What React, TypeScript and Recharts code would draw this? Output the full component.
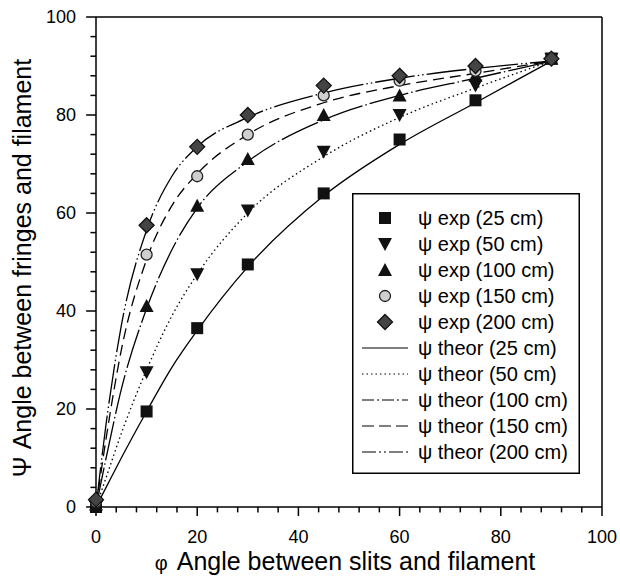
import { ComposedChart, Line, Scatter, XAxis, YAxis, ReferenceLine } from "recharts"

// experimental angles (phi) and measured psi for each slit distance
const phiExp = [0, 10, 20, 30, 45, 60, 75, 90]
const psiExp25 = [0, 19.5, 36.5, 49.5, 64, 75, 83, 91.5]
const psiExp50 = [0, 27.5, 47.5, 60.5, 72.5, 80, 86, 91.5]
const psiExp100 = [0.5, 41, 61.5, 71, 80, 84, 88, 91.5]
const psiExp150 = [1, 51.5, 67.5, 76, 84, 87, 89, 91.5]
const psiExp200 = [1.5, 57.5, 73.5, 80, 86, 88, 90, 91.5]

// theoretical curves
const phiTheor = [0, 2, 5, 10, 15, 20, 30, 45, 60, 75, 90]
const psiTheor25 = [0, 4, 10, 19.5, 28.5, 36, 49, 63.5, 74, 82.5, 91]
const psiTheor50 = [0, 6, 15, 28, 39, 47.5, 60, 71.5, 79.5, 85.5, 91]
const psiTheor100 = [0, 10, 24, 40.5, 52.5, 61, 70.5, 79, 84, 87.5, 91]
const psiTheor150 = [0, 14, 32, 50.5, 61.5, 68, 76, 82.5, 86, 88.5, 91]
const psiTheor200 = [0, 17, 37, 56.5, 67.5, 73.5, 79.5, 84.5, 87.5, 89.5, 91]

const majorTicks = [0, 20, 40, 60, 80, 100]
const minorTicks = [0, 4, 8, 12, 16, 20, 24, 28, 32, 36, 40, 44, 48, 52, 56, 60, 64, 68, 72, 76, 80, 84, 88, 92, 96, 100]

const FONT = "'Liberation Sans', Arial, sans-serif"

const toPoints = (xs: number[], ys: number[]) => xs.map((x, i) => ({ x, y: ys[i] }))

type Marker = "square" | "down" | "up" | "circle" | "diamond"

function drawMarker(kind: Marker, cx: number, cy: number) {
  switch (kind) {
    case "square":
      return <rect x={cx - 6} y={cy - 6} width={12} height={12} fill="#111" />
    case "down":
      return <polygon points={`${cx - 7},${cy - 6} ${cx + 7},${cy - 6} ${cx},${cy + 7}`} fill="#111" />
    case "up":
      return <polygon points={`${cx - 7},${cy + 6} ${cx + 7},${cy + 6} ${cx},${cy - 7}`} fill="#111" />
    case "circle":
      return <circle cx={cx} cy={cy} r={5.5} fill="#cfcfcf" stroke="#222" strokeWidth={1.3} />
    default:
      return (
        <polygon
          points={`${cx},${cy - 7.5} ${cx + 7.5},${cy} ${cx},${cy + 7.5} ${cx - 7.5},${cy}`}
          fill="#444"
          stroke="#111"
          strokeWidth={1.3}
        />
      )
  }
}

const markerShape = (kind: Marker) => (props: any) => {
  const { cx, cy } = props
  if (cx == null || cy == null) return <g />
  return drawMarker(kind, cx, cy)
}

const expSeries: { name: string; kind: Marker; data: number[] }[] = [
  { name: "ψ exp (25 cm)", kind: "square", data: psiExp25 },
  { name: "ψ exp (50 cm)", kind: "down", data: psiExp50 },
  { name: "ψ exp (100 cm)", kind: "up", data: psiExp100 },
  { name: "ψ exp (150 cm)", kind: "circle", data: psiExp150 },
  { name: "ψ exp (200 cm)", kind: "diamond", data: psiExp200 },
]

const theorSeries: { name: string; dash: string; legendDash: string; data: number[] }[] = [
  { name: "ψ theor (25 cm)", dash: "", legendDash: "", data: psiTheor25 },
  { name: "ψ theor (50 cm)", dash: "1.5 3", legendDash: "1.5 3", data: psiTheor50 },
  { name: "ψ theor (100 cm)", dash: "40 3 1.5 3", legendDash: "12 3 2 3", data: psiTheor100 },
  { name: "ψ theor (150 cm)", dash: "11 6", legendDash: "12 5", data: psiTheor150 },
  { name: "ψ theor (200 cm)", dash: "40 3 1.5 3 1.5 3", legendDash: "14 3 2 3 2 3", data: psiTheor200 },
]

const LegendBox = () => (
  <svg width={228} height={281} style={{ position: "absolute", left: 352, top: 193, display: "block" }}>
    <rect x={0.75} y={0.75} width={226.5} height={279.5} fill="#fff" stroke="#000" strokeWidth={1.5} />
    {expSeries.map((s, i) => (
      <g key={s.name}>
        {drawMarker(s.kind, 33, 25 + i * 26)}
        <text x={66} y={25 + i * 26} dy="0.36em" fontSize={20} fontFamily={FONT} fill="#000">
          {s.name}
        </text>
      </g>
    ))}
    {theorSeries.map((s, i) => (
      <g key={s.name}>
        <line
          x1={10}
          x2={56}
          y1={25 + (i + 5) * 26}
          y2={25 + (i + 5) * 26}
          stroke="#000"
          strokeWidth={1.2}
          strokeDasharray={s.legendDash || undefined}
        />
        <text x={66} y={25 + (i + 5) * 26} dy="0.36em" fontSize={20} fontFamily={FONT} fill="#000">
          {s.name}
        </text>
      </g>
    ))}
  </svg>
)

const YTitle = () => (
  <text x={31} y={268} transform="rotate(-90 31 268)" textAnchor="middle" fontSize={25} fontFamily={FONT} fill="#000">
    Ψ Angle between fringes and filament
  </text>
)

const XTitle = () => (
  <text x={345} y={570} textAnchor="middle" fontSize={25} fontFamily={FONT} fill="#000">
    <tspan fontSize={20}>φ</tspan>
    <tspan dx={9}>Angle between slits and filament</tspan>
  </text>
)

const tickFont = { fontSize: 18, fill: "#000", fontFamily: FONT }

// tick mark lengths in data units (major ~9px, minor ~5px outward)
const xTickLen = (t: number) => (t % 20 === 0 ? 1.85 : 1.1)
const yTickLen = (t: number) => (t % 20 === 0 ? 1.95 : 1.1)

export default function App() {
  return (
    <div style={{ position: "absolute", left: 0, top: 0, width: 620, height: 579, background: "#fff" }}>
      <ComposedChart width={620} height={579} margin={{ top: 17, right: 18, bottom: 0, left: 0 }}>
        <XAxis
          type="number"
          dataKey="x"
          domain={[0, 100]}
          ticks={majorTicks}
          interval={0}
          height={72}
          tickSize={0}
          tickMargin={23}
          tick={tickFont}
          tickLine={false}
          axisLine={{ stroke: "#000", strokeWidth: 1.5 }}
          label={<XTitle />}
        />
        <YAxis
          type="number"
          dataKey="y"
          domain={[0, 100]}
          ticks={majorTicks}
          interval={0}
          width={96}
          tickSize={0}
          tickMargin={20}
          tick={tickFont}
          tickLine={false}
          axisLine={{ stroke: "#000", strokeWidth: 1.5 }}
          label={<YTitle />}
        />
        <ReferenceLine y={100} stroke="#000" strokeWidth={1.5} />
        <ReferenceLine x={100} stroke="#000" strokeWidth={1.5} />
        {minorTicks.map((t) => (
          <ReferenceLine
            key={`xt${t}`}
            segment={[{ x: t, y: 0 }, { x: t, y: -xTickLen(t) }]}
            ifOverflow="visible"
            stroke="#000"
            strokeWidth={1.5}
          />
        ))}
        {minorTicks.map((t) => (
          <ReferenceLine
            key={`yt${t}`}
            segment={[{ x: 0, y: t }, { x: -yTickLen(t), y: t }]}
            ifOverflow="visible"
            stroke="#000"
            strokeWidth={1.5}
          />
        ))}
        {theorSeries.map((s) => (
          <Line
            key={s.name}
            name={s.name}
            data={toPoints(phiTheor, s.data)}
            dataKey="y"
            type="monotone"
            stroke="#000"
            strokeWidth={1.3}
            strokeDasharray={s.dash || undefined}
            dot={false}
            activeDot={false}
            isAnimationActive={false}
          />
        ))}
        {expSeries.map((s) => (
          <Scatter
            key={s.name}
            name={s.name}
            data={toPoints(phiExp, s.data)}
            dataKey="y"
            shape={markerShape(s.kind)}
            isAnimationActive={false}
          />
        ))}
      </ComposedChart>
      <LegendBox />
    </div>
  )
}
